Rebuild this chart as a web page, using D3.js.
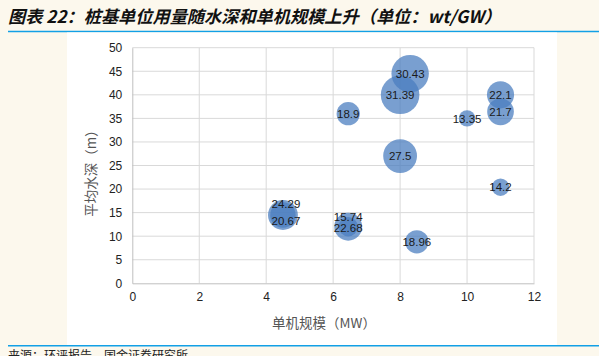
<!DOCTYPE html>
<html><head><meta charset="utf-8">
<script src="https://cdn.jsdelivr.net/npm/d3@7/dist/d3.min.js"></script>
<style>
html,body{margin:0;padding:0;background:#fcf8ed;}
svg{display:block;}
</style></head>
<body>
<script>
// ---- data ----
const labels = ["30.43","31.39","18.9","13.35","22.1","21.7","27.5","14.2","24.29","20.67","15.74","22.68","18.96"];
const unitSize = [8.3, 8, 6.45, 10, 11, 11, 8, 11, 4.5, 4.5, 6.45, 6.45, 8.5];        // 单机规模 MW
const waterDepth = [44.5, 40, 36, 35, 40, 36.4, 27, 20.4, 14.5, 14.5, 12, 12, 8.8];   // 平均水深 m
const pileUse = [30.43, 31.39, 18.9, 13.35, 22.1, 21.7, 27.5, 14.2, 24.29, 20.67, 15.74, 22.68, 18.96]; // wt/GW
const xTicks = [0, 2, 4, 6, 8, 10, 12];
const yTicks = [0, 5, 10, 15, 20, 25, 30, 35, 40, 45, 50];
const titleText = "图表 22：桩基单位用量随水深和单机规模上升（单位：wt/GW）";
const xTitle = "单机规模（MW）";
const yTitle = "平均水深（m）";
const sourceText = "来源：环评报告，国金证券研究所";

// ---- layout ----
const W = 599, H = 356;
const svg = d3.select("body").append("svg").attr("width", W).attr("height", H);
svg.append("rect").attr("width", W).attr("height", H).attr("fill", "#fcf8ed");

// title
svg.append("text").attr("x", 8).attr("y", 23)
  .attr("font-family", "'Noto Sans CJK SC', sans-serif")
  .attr("font-size", 17.2).attr("font-style", "italic").attr("font-weight", 600)
  .attr("fill", "#111").text(titleText);
svg.append("line").attr("x1", 8).attr("x2", W).attr("y1", 31.5).attr("y2", 31.5)
  .attr("stroke", "#12a0e6").attr("stroke-width", 1.6);

// white panel
svg.append("rect").attr("x", 67).attr("y", 32.5).attr("width", 490).attr("height", 312.5).attr("fill", "#fff");

svg.append("line").attr("x1", 8).attr("x2", W).attr("y1", 345.8).attr("y2", 345.8)
  .attr("stroke", "#12a0e6").attr("stroke-width", 1.6);
svg.append("text").attr("x", 8).attr("y", 360)
  .attr("font-family", "'Noto Sans CJK SC', sans-serif")
  .attr("font-size", 12).attr("fill", "#222").text(sourceText);

const x = d3.scaleLinear().domain([0, 12]).range([132.3, 534]);
const y = d3.scaleLinear().domain([0, 50]).range([283.3, 47.7]);
const r = d3.scaleLinear().domain([0, 31.39]).range([0, 19.3]);

const g = svg.append("g");
// grid
g.selectAll(".vg").data(xTicks.slice(1)).join("line")
  .attr("x1", d => x(d)).attr("x2", d => x(d)).attr("y1", y(0)).attr("y2", y(50))
  .attr("stroke", "#d9d9d9").attr("stroke-width", 1);
g.selectAll(".hg").data(yTicks.slice(1)).join("line")
  .attr("x1", x(0)).attr("x2", x(12)).attr("y1", d => y(d)).attr("y2", d => y(d))
  .attr("stroke", "#d9d9d9").attr("stroke-width", 1);

// axes
const xAxis = d3.axisBottom(x).tickValues(xTicks).tickSize(0).tickPadding(9).tickFormat(d3.format("d"));
const yAxis = d3.axisLeft(y).tickValues(yTicks).tickSize(0).tickPadding(10).tickFormat(d3.format("d"));
const gx = svg.append("g").attr("transform", `translate(0,${y(0)})`).call(xAxis);
const gy = svg.append("g").attr("transform", `translate(${x(0)},0)`).call(yAxis);
[gx, gy].forEach(a => {
  a.select(".domain").attr("stroke", "#bfbfbf").attr("stroke-width", 1);
  a.selectAll("text").attr("font-family", "'Liberation Sans', Arial, sans-serif")
    .attr("font-size", 12).attr("fill", "#222");
});

// axis titles
svg.append("text").attr("x", 324).attr("y", 328).attr("text-anchor", "middle")
  .attr("font-family", "'Noto Sans CJK SC', sans-serif").attr("font-size", 13.5)
  .attr("fill", "#555").text(xTitle);
svg.append("text").attr("transform", `translate(96,170) rotate(-90)`).attr("text-anchor", "middle")
  .attr("font-family", "'Noto Sans CJK SC', sans-serif").attr("font-size", 13.5)
  .attr("fill", "#555").text(yTitle);

// bubbles
const pts = labels.map((l, i) => ({ l, x: unitSize[i], y: waterDepth[i], s: pileUse[i] }));
svg.append("g").selectAll("circle").data(pts).join("circle")
  .attr("cx", d => x(d.x)).attr("cy", d => y(d.y)).attr("r", d => r(d.s))
  .attr("fill", "#4a7ebf").attr("fill-opacity", 0.74);

// label nudges for overlapping bubbles (layout only)
const nudge = { "24.29": [3, -11], "20.67": [3, 6], "15.74": [0, -10], "22.68": [0, 1] };
svg.append("g").selectAll("text").data(pts).join("text")
  .attr("x", d => x(d.x) + (nudge[d.l] ? nudge[d.l][0] : 0))
  .attr("y", d => y(d.y) + (nudge[d.l] ? nudge[d.l][1] : 0))
  .attr("dy", "0.36em").attr("text-anchor", "middle")
  .attr("font-family", "'Liberation Sans', Arial, sans-serif").attr("font-size", 11.5)
  .attr("fill", "#1a1a1a").text(d => d.l);
</script>
</body></html>
